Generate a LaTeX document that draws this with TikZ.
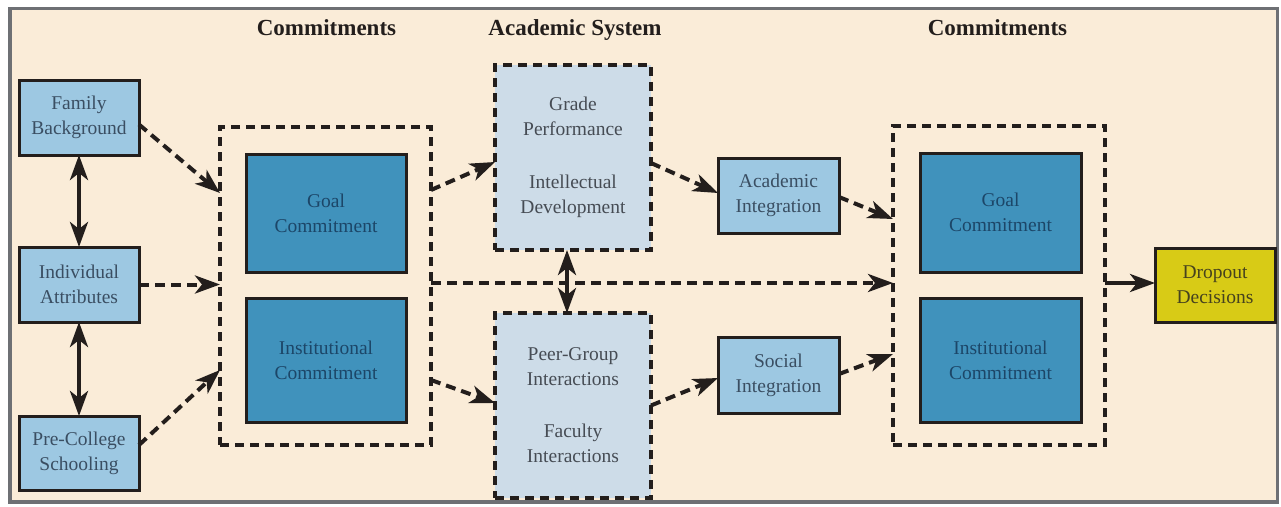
\documentclass[tikz,border=0pt]{standalone}
\usepackage{fontspec}
\setmainfont{Liberation Serif}
\usetikzlibrary{arrows.meta}
\definecolor{bgcream}{RGB}{250,236,216}
\definecolor{framegray}{RGB}{110,112,116}
\definecolor{lblue}{RGB}{157,200,226}
\definecolor{dblue}{RGB}{64,146,188}
\definecolor{gblue}{RGB}{205,220,232}
\definecolor{yel}{RGB}{216,203,22}
\definecolor{ltext}{RGB}{58,78,98}
\definecolor{dtext}{RGB}{28,70,104}
\definecolor{gtext}{RGB}{70,76,84}
\definecolor{ytext}{RGB}{70,66,30}
\definecolor{ink}{RGB}{35,30,28}
\tikzset{
  every node/.style={inner sep=0pt, outer sep=0pt},
  bodyfont/.style={font=\fontsize{19.5}{25}\selectfont, align=center},
  lbox/.style={bodyfont, draw=ink, line width=3pt, fill=lblue, text=ltext},
  dbox/.style={bodyfont, draw=ink, line width=3pt, fill=dblue, text=dtext},
  gbox/.style={bodyfont, draw=ink, line width=3.2pt, dash pattern=on 9pt off 6pt, fill=gblue, text=gtext},
  ybox/.style={bodyfont, draw=ink, line width=3pt, fill=yel, text=ytext},
  dashgroup/.style={draw=ink, line width=3.2pt, dash pattern=on 9pt off 6pt},
  heading/.style={font=\fontsize{23}{26}\selectfont\bfseries, text=ink, anchor=base},
  darr/.style={draw=ink, line width=4pt, dash pattern=on 10pt off 6pt, -{Stealth[length=25pt,width=18pt,inset=7pt]}},
  sarr/.style={draw=ink, line width=4pt, -{Stealth[length=25pt,width=18pt,inset=7pt]}},
  dblarr/.style={draw=ink, line width=4pt, {Stealth[length=25pt,width=18pt,inset=7pt]}-{Stealth[length=25pt,width=18pt,inset=7pt]}},
}
\begin{document}
\begin{tikzpicture}[x=1pt,y=-1pt]
\useasboundingbox (0,0) rectangle (1281,506);
\fill[white] (0,0) rectangle (1281,506);
\draw[fill=bgcream, draw=framegray, line width=3.5pt] (10,8.5) rectangle (1277.5,502);

% headings
\node[heading] (h1) at (326.5,35) {Commitments};
\node[heading] (h2) at (575,35) {Academic System};
\node[heading] (h3) at (997.5,35) {Commitments};

% left column
\node[lbox, minimum width=120pt, minimum height=75pt] (fam) at (79,117.5) {Family\\Background};
\node[lbox, minimum width=120pt, minimum height=75pt] (ind) at (79,284.5) {Individual\\Attributes};
\node[lbox, minimum width=120pt, minimum height=74pt] (pre) at (79,453) {Pre-College\\Schooling};

% left commitments group
\node[dashgroup, minimum width=211pt, minimum height=318pt] (lbx) at (325.5,286) {};
\node[dbox, minimum width=160pt, minimum height=118pt] (lgoal) at (326,213) {Goal\\Commitment};
\node[dbox, minimum width=160pt, minimum height=124pt] (linst) at (326,360) {Institutional\\Commitment};

% academic / social system
\node[gbox, minimum width=156pt, minimum height=185pt] (grade) at (573,157.5) {Grade\\Performance\\[28pt]Intellectual\\Development};
\node[gbox, minimum width=156pt, minimum height=185pt] (peer) at (573,405.5) {Peer-Group\\Interactions\\[27pt]Faculty\\Interactions};

% integration
\node[lbox, minimum width=121pt, minimum height=75pt] (acad) at (778.5,195.5) {Academic\\Integration};
\node[lbox, minimum width=121pt, minimum height=76pt] (soc) at (778.5,375) {Social\\Integration};

% right commitments group
\node[dashgroup, minimum width=212pt, minimum height=319pt] (rbx) at (999,285.5) {};
\node[dbox, minimum width=161pt, minimum height=119pt] (rgoal) at (1000.5,212.5) {Goal\\Commitment};
\node[dbox, minimum width=161pt, minimum height=124pt] (rinst) at (1000.5,360) {Institutional\\Commitment};

% dropout
\node[ybox, minimum width=120pt, minimum height=74pt] (drop) at (1215,285) {Dropout\\Decisions};

% solid double arrows
\draw[dblarr] (fam.south) -- (ind.north);
\draw[dblarr] (ind.south) -- (pre.north);
\draw[dblarr] ([xshift=-6pt]grade.south) -- ([xshift=-6pt]peer.north);

% dashed arrows
\draw[darr] ([yshift=-7pt]fam.east) -- ([yshift=93pt]lbx.west);
\draw[darr] (ind.east) -- (ind.east -| lbx.west);
\draw[darr] ([yshift=8pt]pre.east) -- ([yshift=-84pt]lbx.west);
\draw[darr] ([yshift=96pt]lbx.east) -- ([yshift=-4.5pt]grade.west);
\draw[darr] ([yshift=-94pt]lbx.east) -- ([yshift=2.5pt]peer.west);
\draw[darr] ([yshift=3pt]lbx.east) -- ([yshift=2.5pt]rbx.west);
\draw[darr] ([yshift=-5.5pt]grade.east) -- ([yshift=2.5pt]acad.west);
\draw[darr] (peer.east) -- ([yshift=-3pt]soc.west);
\draw[darr] ([yshift=-1.5pt]acad.east) -- ([yshift=66.5pt]rbx.west);
\draw[darr] ([yshift=1pt]soc.east) -- ([yshift=-68.5pt]rbx.west);

% solid arrow to dropout
\draw[sarr] ([yshift=2.5pt]rbx.east) -- ([yshift=2pt]drop.west);
\end{tikzpicture}
\end{document}
